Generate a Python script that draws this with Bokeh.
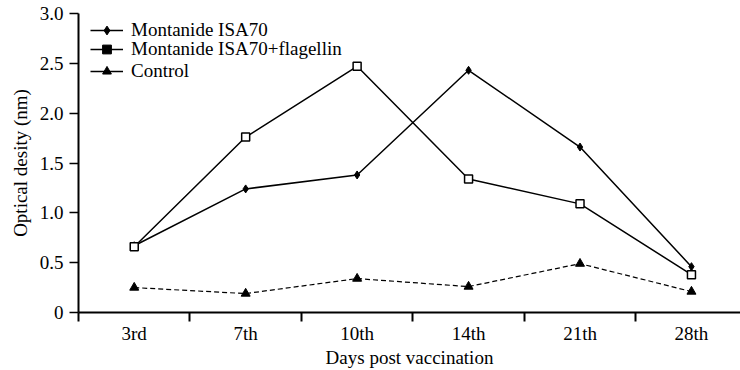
from bokeh.plotting import figure
from bokeh.models import Range1d, FixedTicker, Legend, LegendItem, ColumnDataSource
from bokeh.embed import file_html
from bokeh.resources import INLINE

days = ["3rd", "7th", "10th", "14th", "21th", "28th"]
isa70 = [0.67, 1.24, 1.38, 2.43, 1.66, 0.46]
isa70_flag = [0.66, 1.76, 2.47, 1.34, 1.09, 0.38]
control = [0.25, 0.19, 0.34, 0.26, 0.49, 0.21]
y_ticks = [0, 0.5, 1.0, 1.5, 2.0, 2.5, 3.0]
y_tick_labels = ["0", "0.5", "1.0", "1.5", "2.0", "2.5", "3.0"]
series_labels = ["Montanide ISA70", "Montanide ISA70+flagellin", "Control"]

FONT = "Liberation Serif"
FS = "19px"
xs = [i + 0.5 for i in range(len(days))]

p = figure(width=740, height=370, output_backend="svg", toolbar_location=None,
           x_range=Range1d(0, 5.94), y_range=Range1d(0, 3.0),
           min_border_left=78, min_border_right=0, min_border_top=13, min_border_bottom=57)
p.outline_line_color = None
p.xgrid.visible = False
p.ygrid.visible = False
p.background_fill_color = "white"

src = ColumnDataSource(dict(x=xs, a=isa70, b=isa70_flag, c=control))

la = p.line("x", "a", source=src, line_color="black", line_width=1.5)
sa = p.scatter("x", "a", source=src, marker="diamond", size=8, fill_color="black", line_color="black")
lb = p.line("x", "b", source=src, line_color="black", line_width=1.5)
sb = p.scatter("x", "b", source=src, marker="square", size=8, fill_color="white", line_color="black", line_width=1.5)
lc = p.line("x", "c", source=src, line_color="black", line_width=1.2, line_dash="5 3")
sc = p.scatter("x", "c", source=src, marker="triangle", size=9, fill_color="black", line_color="black")

# legend-only glyphs (legend shows a filled square and a solid control line); no visible data
nan = float("nan")
dummy = ColumnDataSource(dict(x=[nan], y=[nan]))
ma = p.scatter("x", "y", source=dummy, marker="diamond", size=8, fill_color="black", line_color="black")
mb = p.scatter("x", "y", source=dummy, marker="square", size=7, fill_color="black", line_color="black")
mc = p.scatter("x", "y", source=dummy, marker="triangle", size=8, fill_color="black", line_color="black")
lc_leg = p.line("x", "y", source=dummy, line_color="black", line_width=1.5)

leg_renderers = [[la, ma], [lb, mb], [lc_leg, mc]]
leg_offsets = [271, 252, 230]
for lab, rends, vy in zip(series_labels, leg_renderers, leg_offsets):
    lg = Legend(items=[LegendItem(label=lab, renderers=rends)],
                location=(12, vy), border_line_color=None, background_fill_alpha=0,
                padding=0, margin=0, spacing=0, label_height=22, glyph_height=22, glyph_width=33,
                label_standoff=8, label_text_font=FONT, label_text_font_size=FS,
                label_text_color="black")
    p.add_layout(lg, "center")

# x axis
p.xaxis.ticker = FixedTicker(ticks=xs, minor_ticks=list(range(len(days))))
p.xaxis.major_label_overrides = {x: d for x, d in zip(xs, days)}
p.xaxis.major_tick_out = 0
p.xaxis.major_tick_in = 0
p.xaxis.minor_tick_out = 9
p.xaxis.minor_tick_in = 0
p.xaxis.minor_tick_line_width = 2
p.xaxis.minor_tick_line_color = "black"
p.xaxis.axis_line_width = 2
p.xaxis.major_label_standoff = 1
p.xaxis.axis_label = "Days post vaccination"
p.xaxis.axis_label_standoff = 0

# y axis
p.yaxis.ticker = FixedTicker(ticks=y_ticks)
p.yaxis.major_label_overrides = {t: l for t, l in zip(y_ticks, y_tick_labels)}
p.yaxis.major_tick_out = 9
p.yaxis.major_tick_in = 0
p.yaxis.major_tick_line_width = 1.5
p.yaxis.major_tick_line_color = "black"
p.yaxis.minor_tick_line_color = None
p.yaxis.axis_line_width = 2
p.yaxis.major_label_standoff = 6
p.yaxis.axis_label = "Optical desity (nm)"
p.yaxis.axis_label_standoff = 6

for ax in (p.xaxis, p.yaxis):
    ax.major_label_text_font = FONT
    ax.major_label_text_font_size = FS
    ax.major_label_text_color = "black"
    ax.axis_label_text_font = FONT
    ax.axis_label_text_font_size = FS
    ax.axis_label_text_font_style = "normal"
    ax.axis_label_text_color = "black"
    ax.axis_line_color = "black"

open("out.html", "w").write(file_html(p, INLINE))
